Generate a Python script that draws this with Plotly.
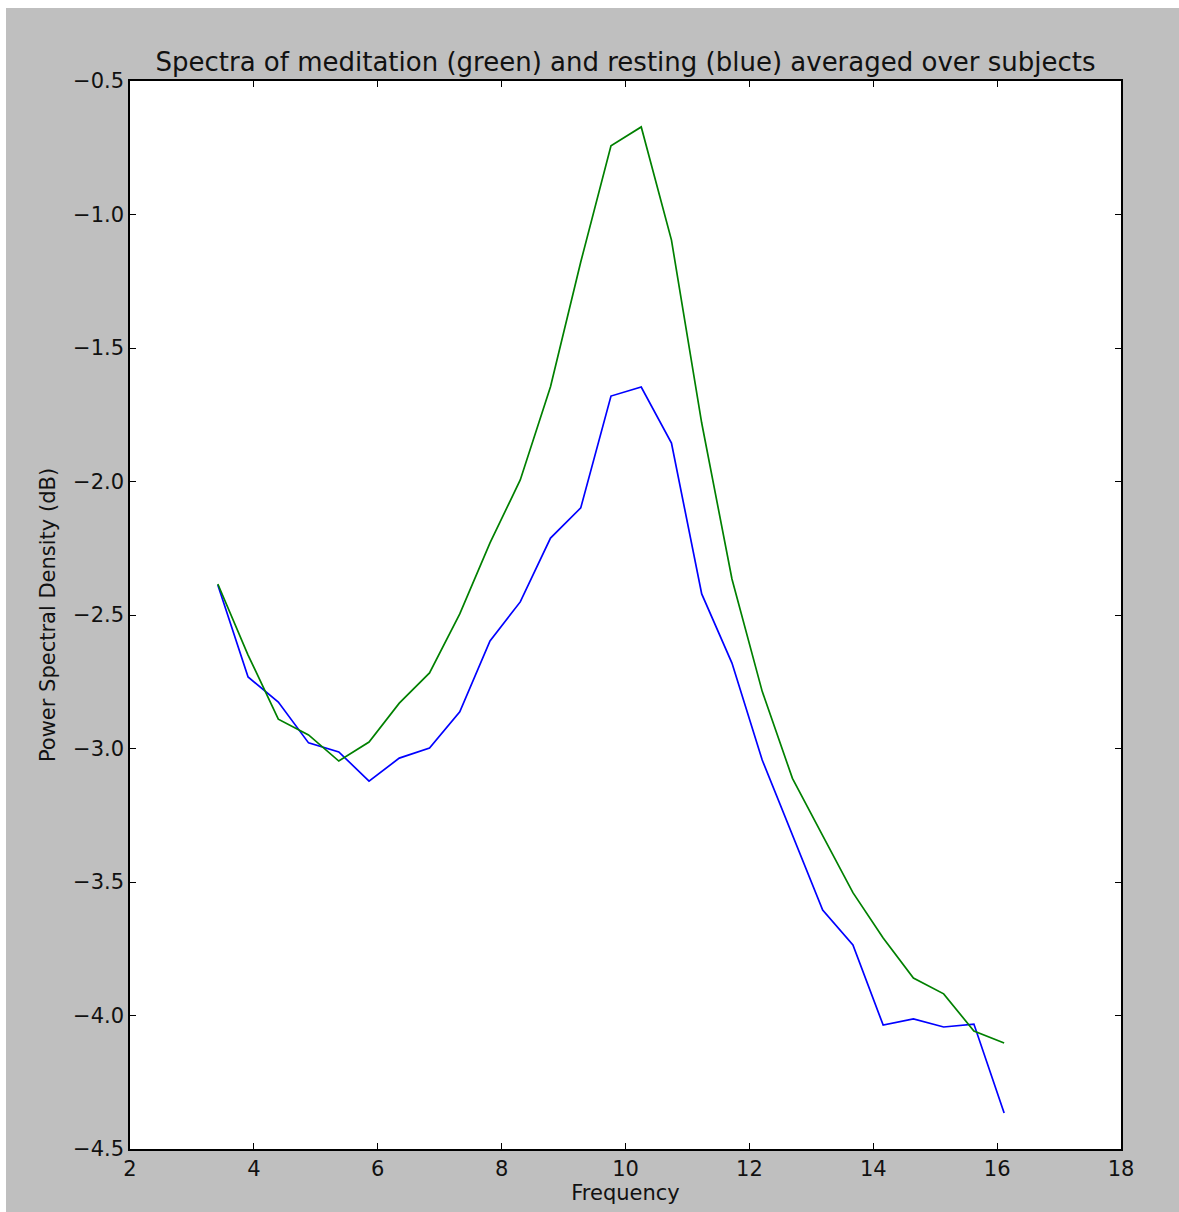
import numpy as np
import plotly.graph_objects as go

# Frequency bins (Hz): bins 7..33 at a resolution of 500/1024 Hz
freq_step = 500 / 1024
bins = list(range(7, 34))
freqs = [b * freq_step for b in bins]

# Mean spectra across subjects (dB)
resting = [-2.388, -2.732, -2.826, -2.979, -3.013, -3.122, -3.036, -2.998,
           -2.863, -2.597, -2.451, -2.212, -2.099, -1.680, -1.646, -1.856,
           -2.421, -2.680, -3.043, -3.324, -3.605, -3.736, -4.036, -4.013,
           -4.043, -4.032, -4.365]
meditation = [-2.384, -2.650, -2.890, -2.949, -3.047, -2.976, -2.830, -2.717,
              -2.496, -2.230, -1.994, -1.645, -1.178, -0.743, -0.672, -1.096,
              -1.781, -2.365, -2.786, -3.112, -3.326, -3.540, -3.710, -3.860,
              -3.919, -4.058, -4.103]

x_ticks = [2, 4, 6, 8, 10, 12, 14, 16, 18]
y_ticks = [-0.5, -1.0, -1.5, -2.0, -2.5, -3.0, -3.5, -4.0, -4.5]
y_tick_text = [f"{v:.1f}".replace("-", "\u2212") for v in y_ticks]

W, H = 1179, 1212
L, R, T, B = 130, 58, 81, 63
pw, ph = W - L - R, H - T - B

fig = go.Figure()
fig.add_trace(go.Scatter(x=freqs, y=resting, mode="lines",
                         line=dict(color="#0000ff", width=1.7), name="resting"))
fig.add_trace(go.Scatter(x=freqs, y=meditation, mode="lines",
                         line=dict(color="#008000", width=1.7), name="meditation"))

font_family = "DejaVu Sans"
label_size = 21
axis_common = dict(
    showgrid=False, zeroline=False, showline=True, linecolor="black",
    linewidth=1.5, mirror="allticks", ticks="inside", ticklen=6,
    tickwidth=1, tickcolor="black",
    tickfont=dict(family=font_family, size=label_size, color="#111111"),
)

fig.update_layout(
    width=W, height=H,
    margin=dict(l=L, r=R, t=T, b=B),
    paper_bgcolor="#bfbfbf",
    plot_bgcolor="white",
    showlegend=False,
    title=dict(
        text="Spectra of meditation (green) and resting (blue) averaged over subjects",
        font=dict(family=font_family, size=26, color="#111111"),
        x=0.5, xref="paper", xanchor="center",
        y=1, yref="paper", yanchor="bottom", pad=dict(b=10),
    ),
    xaxis=dict(range=[2, 18], tickvals=x_ticks,
               ticktext=[str(v) for v in x_ticks],
               title=dict(text="Frequency",
                          font=dict(family=font_family, size=label_size, color="#111111"),
                          standoff=4),
               **axis_common),
    yaxis=dict(range=[-4.5, -0.5], tickvals=y_ticks, ticktext=y_tick_text,
               title=dict(text="Power Spectral Density (dB)",
                          font=dict(family=font_family, size=label_size, color="#111111"),
                          standoff=12),
               **axis_common),
)

# Thin white strips along the top and left edges of the canvas
fig.add_shape(type="rect", xref="paper", yref="paper", layer="below",
              x0=-L / pw, x1=(-L + 6) / pw, y0=-B / ph, y1=1 + T / ph,
              fillcolor="white", line=dict(width=0))
fig.add_shape(type="rect", xref="paper", yref="paper", layer="below",
              x0=-L / pw, x1=1 + R / pw, y0=1 + (T - 8) / ph, y1=1 + T / ph,
              fillcolor="white", line=dict(width=0))

fig.write_html("out.html")
